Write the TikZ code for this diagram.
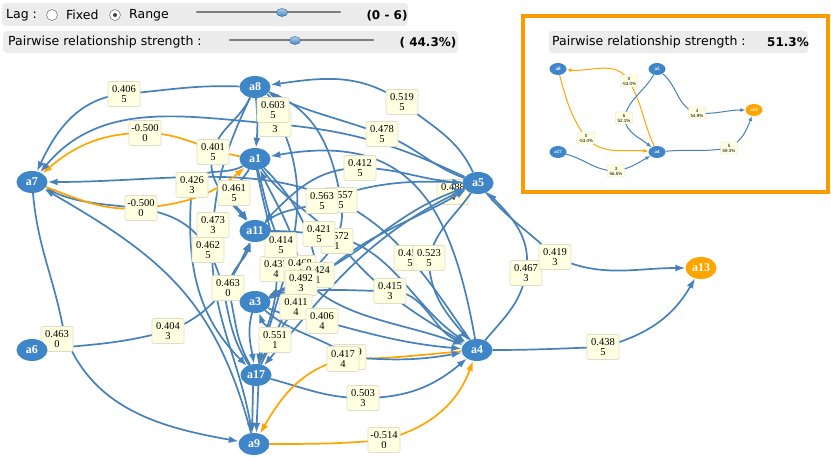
\documentclass[tikz,border=0pt]{standalone}
\usepackage{fontspec}
\setmainfont{Liberation Serif}
\newfontfamily\uisans{DejaVu Sans}
\newfontfamily\lblsans{Liberation Sans}
\usetikzlibrary{shapes.geometric,arrows.meta}
\definecolor{nodeblue}{RGB}{62,134,200}
\definecolor{edgeblue}{RGB}{70,130,185}
\definecolor{edgeorange}{RGB}{255,165,0}
\definecolor{frameorange}{RGB}{255,153,0}
\definecolor{lbfill}{RGB}{255,255,226}
\definecolor{lbborder}{RGB}{222,222,200}
\definecolor{barbg}{RGB}{236,236,236}
\definecolor{slidergray}{RGB}{125,125,125}
\pgfdeclarelayer{back}\pgfdeclarelayer{bg}\pgfdeclarelayer{fg}\pgfsetlayers{back,bg,main,fg}
\begin{document}
\begin{tikzpicture}[x=1pt,y=1pt,
 nd/.style={ellipse,fill=nodeblue,text=white,font=\bfseries\fontsize{12}{12}\selectfont,minimum width=31pt,minimum height=22pt,inner sep=0pt},
 ndo/.style={nd,fill=edgeorange},
 lb/.style={draw=lbborder,fill=lbfill,rounded corners=2pt,line width=0.7pt,font=\fontsize{10.5}{10.5}\selectfont,align=center,inner sep=1pt,minimum width=32pt,minimum height=25pt},
 eb/.style={draw=edgeblue,line width=1.7pt,-{Latex[length=10pt,width=7pt]}},
 eo/.style={eb,draw=edgeorange},
 snd/.style={ellipse,fill=nodeblue,text=white,font=\bfseries\fontsize{5}{5}\selectfont,minimum width=17pt,minimum height=12pt,inner sep=0pt},
 sndo/.style={snd,fill=edgeorange},
 slb/.style={draw=lbborder,fill=lbfill,rounded corners=1pt,line width=0.4pt,font=\lblsans\fontsize{4.5}{5}\selectfont,align=center,inner sep=0.5pt,minimum width=17pt,minimum height=12pt},
 sb/.style={draw=edgeblue,line width=1pt,-{Latex[length=5pt,width=4pt]}},
 sbo/.style={sb,draw=edgeorange},
 ui/.style={font=\uisans\fontsize{12.5}{12.5}\selectfont,inner sep=0pt},
 uib/.style={font=\uisans\bfseries\fontsize{12}{12}\selectfont,inner sep=0pt},
 knob/.style={ellipse,minimum width=11pt,minimum height=8pt,inner sep=0pt,draw=nodeblue!70!black,top color=nodeblue!40!white,bottom color=nodeblue},
 slider/.style={line width=2.6pt,draw=slidergray,line cap=round}
]
\useasboundingbox (0,0) rectangle (831,-457);
\begin{pgfonlayer}{back}
\fill[white] (0,0) rectangle (831,-457);
\end{pgfonlayer}

% ---------- toolbar ----------
\fill[barbg,rounded corners=4pt] (2,-3) rectangle (408,-26);
\node[ui,anchor=west] (tlag) at (6,-15) {Lag :};
\node[circle,draw=gray,fill=white,minimum size=11pt,inner sep=0pt,line width=0.6pt] (rb1) at (52,-15) {};
\node[ui,anchor=west] (tfixed) at (66,-15) {Fixed};
\node[circle,draw=gray,fill=white,minimum size=11pt,inner sep=0pt,line width=0.6pt] (rb2) at (115,-15) {};
\node[circle,fill=black!75,minimum size=4pt,inner sep=0pt] (rb2dot) at (rb2) {};
\node[ui,anchor=west] (trange) at (129,-15) {Range};
\coordinate (s1a) at (197,-12); \coordinate (s1b) at (340,-12);
\draw[slider] (s1a) -- (s1b);
\node[knob] (k1) at (282,-12.5) {};
\node[uib] (tlagval) at (387,-16) {(0 - 6)};

\fill[barbg,rounded corners=4pt] (3,-31) rectangle (458,-53);
\node[ui,anchor=west] (tpair) at (8,-42) {Pairwise relationship strength :};
\coordinate (s2a) at (230,-40); \coordinate (s2b) at (373,-40);
\draw[slider] (s2a) -- (s2b);
\node[knob] (k2) at (295,-40.5) {};
\node[uib] (tpairval) at (428,-43) {( 44.3\%)};

% ---------- inset ----------
\draw[frameorange,line width=4.5pt] (523,-16) rectangle (828,-192);
\fill[barbg,rounded corners=3pt] (549,-31) rectangle (808,-53);
\node[ui,anchor=west] (ipair) at (552,-42) {Pairwise relationship strength :};
\node[uib] (ipairval) at (788,-42) {51.3\%};

\begin{pgfonlayer}{fg}
\node[snd] (b8) at (558,-69) {a8};
\node[snd] (b5) at (657,-69) {a5};
\node[sndo] (b13) at (754,-110) {a13};
\node[snd] (b17) at (558,-152) {a17};
\node[snd] (b4) at (657,-152) {a4};
\end{pgfonlayer}
\coordinate (r1) at (629,-81);
\coordinate (r2) at (624,-118);
\coordinate (r3) at (697,-113);
\coordinate (r4) at (586,-138);
\coordinate (r5) at (616,-171);
\coordinate (r6) at (729,-148);
\begin{pgfonlayer}{bg}
\draw[sbo] (b4) to[out=115,in=-60] (r1) to[out=120,in=-5] (b8);
\draw[sbo] (b8) to[out=-75,in=125] (r4) to[out=-45,in=175] (b4);
\draw[sb] (b5) to[out=-120,in=75] (r2) to[out=-80,in=140] (b4);
\draw[sb] (b5) to[out=-40,in=165] (r3) to[out=-5,in=180] (b13);
\draw[sb] (b17) to[out=-15,in=180] (r5) to[out=10,in=-150] (b4);
\draw[sb] (b4) to[out=5,in=190] (r6) to[out=30,in=-110] (b13);
\end{pgfonlayer}
\node[slb] (m1) at (r1) {0\\-53.0\%};
\node[slb] (m2) at (r2) {6\\52.1\%};
\node[slb] (m3) at (r3) {4\\54.9\%};
\node[slb] (m4) at (r4) {0\\-53.0\%};
\node[slb] (m5) at (r5) {3\\56.5\%};
\node[slb] (m6) at (r6) {5\\59.3\%};

% ---------- main graph nodes ----------
\begin{pgfonlayer}{fg}
\node[nd] (a8) at (255,-87) {a8};
\node[nd] (a1) at (255,-159) {a1};
\node[nd] (a7) at (32,-182) {a7};
\node[nd] (a5) at (478,-183) {a5};
\node[nd] (a11) at (255,-231) {a11};
\node[nd] (a3) at (255,-302) {a3};
\node[nd] (a6) at (32,-350) {a6};
\node[nd] (a4) at (477,-350) {a4};
\node[nd] (a17) at (256,-375) {a17};
\node[nd] (a9) at (254,-444) {a9};
\node[ndo] (a13) at (701,-268) {a13};
\end{pgfonlayer}

% label positions
\coordinate (q1) at (124,-94);
\coordinate (q2) at (145,-133);
\coordinate (q3) at (275,-124);
\coordinate (q4) at (273,-110);
\coordinate (q5) at (341,-200);
\coordinate (q6) at (402,-102);
\coordinate (q7) at (382,-134);
\coordinate (q10) at (360,-168);
\coordinate (q11) at (410,-258);
\coordinate (q12) at (57,-339);
\coordinate (q12p) at (64,-333);
\coordinate (q13) at (168,-331);
\coordinate (q14) at (228,-288);
\coordinate (q15) at (208,-250);
\coordinate (q17) at (213,-225);
\coordinate (q18) at (213,-152);
\coordinate (q19) at (234,-193);
\coordinate (q20) at (192,-185);
\coordinate (q21) at (141,-208);
\coordinate (q22) at (319,-234);
\coordinate (q23) at (390,-291);
\coordinate (q24) at (363,-398);
\coordinate (q25) at (281,-245);
\coordinate (q26) at (322,-321);
\coordinate (q27) at (296,-307);
\coordinate (q28) at (301,-283);
\coordinate (q29) at (322,-201);
\coordinate (q30) at (275,-340);
\coordinate (q32) at (300,-268);
\coordinate (q33) at (276,-269);
\coordinate (q34) at (337,-241);
\coordinate (q35) at (318,-275);
\coordinate (q36) at (453,-192);
\coordinate (q37) at (429,-258);
\coordinate (q38) at (526,-273);
\coordinate (q39) at (555,-257);
\coordinate (q40) at (603,-347);
\coordinate (q43) at (343,-359);
\coordinate (q44) at (384,-440);
\coordinate (q45) at (350,-357);

% ---------- edges ----------
\begin{pgfonlayer}{bg}
\node[lb] (l36) at (q36) {0.488\\4};
\draw[eb] (a8) to[out=178,in=5] (q1) to[out=185,in=65] (a7);
\draw[eo] (a1) to[out=170,in=0] (q2) to[out=180,in=40] (a7);
\draw[eb] (a5) to[out=155,in=-5] (q3) to[out=175,in=50] (a7);
\draw[eb] (a8) to[out=-30,in=120] (q4) to[out=-60,in=75] (a17);
\draw[eb] (a8) to[out=-20,in=100] (q5) to[out=-80,in=25] (a3);
\draw[eb] (a5) to[out=115,in=-40] (q6) to[out=145,in=8] (a8);
\draw[eb] (a5) to[out=160,in=-20] (q7) to[out=160,in=-25] (a8);
\draw[eb] (a8) to[bend left=5] (a1);
\draw[eb] (a4) to[out=100,in=10,looseness=1.3] (a1);
\draw[eb] (a5) to[out=178,in=0] (q10) to[out=180,in=45] (a11);
\draw[eb] (a4) to[out=125,in=-50] (q11) to[out=130,in=0] (a7);
\draw[eb] (a7) to[out=-85,in=100] (q12p) to[out=-70,in=170] (a9);
\draw[eb] (a6) to[out=5,in=195] (q13) to[out=20,in=-115] (a11);
\draw[eb] (a17) to[out=120,in=-75] (q14) to[out=80,in=-110] (a11);
\draw[eb] (a17) to[out=125,in=-60] (q15) to[out=120,in=-25] (a7);
\draw[eb] (a9) to[out=105,in=-30,looseness=1.1] (a7);
\draw[eb] (a8) to[out=-115,in=85] (q17) to[out=-95,in=100] (a9);
\draw[eb] (a8) to[out=-115,in=75] (q18) to[out=-105,in=130] (a11);
\draw[eb] (a1) to[out=-120,in=75] (q19) to[out=-105,in=125] (a11);
\draw[eb] (a1) to[out=-150,in=70] (q20) to[out=-95,in=135] (a17);
\draw[eo] (a7) to[out=-20,in=185] (q21) to[out=5,in=-140] (a1);
\draw[eb] (a11) to[out=0,in=175] (q22) to[out=-5,in=145] (a4);
\draw[eb] (a3) to[out=15,in=180] (q23) to[out=0,in=155] (a4);
\draw[eb] (a17) to[out=-15,in=180] (q24) to[out=0,in=-140] (a4);
\draw[eb] (a1) to[out=-75,in=115] (q25) to[out=-65,in=160] (a4);
\draw[eb] (a3) to[out=-25,in=165] (q26) to[out=-15,in=175] (a4);
\draw[eb] (a17) to[out=65,in=-125] (q27) to[out=55,in=-150] (a5);
\draw[eb] (a3) to[out=20,in=-165] (q28) to[out=25,in=-160] (a5);
\draw[eb] (a11) to[out=40,in=-155] (q29) to[out=20,in=178] (a5);
\draw[eb] (a17) to[out=75,in=-110] (q30) to[out=100,in=-70] (a3);
\draw[eb] (a3) to[out=-105,in=100] (a17);
\draw[eb] (a17) to[out=65,in=-105] (q32) to[out=100,in=-65] (a1);
\draw[eb] (a1) to[out=-80,in=95] (q33) to[out=-85,in=80] (a17);
\draw[eb] (a1) to[out=-55,in=130] (q34) to[out=-50,in=150] (a4);
\draw[eb] (a1) to[out=-45,in=100] (q35) to[out=-100,in=20] (a3);
\draw[eb] (a5) to[out=-155,in=50] (a17);
\draw[eb] (a5) to[out=-125,in=75] (q37) to[out=-90,in=130] (a4);
\draw[eb] (a4) to[out=50,in=-100] (q38) to[out=80,in=-45] (a5);
\draw[eb] (a5) to[out=-50,in=135] (q39) to[out=-25,in=180] (a13);
\draw[eb] (a4) to[out=0,in=182] (q40) to[out=15,in=-120] (a13);
\draw[eb] (a17.-105) -- (a9.100);
\draw[eb] (a17.-78) -- (a9.78);
\draw[eo] (a4) to[out=185,in=0] (q43) to[out=-165,in=60] (a9);
\draw[eo] (a9) to[out=0,in=185] (q44) to[out=15,in=-110] (a4);
\draw[eb] (a3) to[out=-40,in=145] (q45) to[out=-5,in=190] (a4);
\end{pgfonlayer}

% ---------- edge labels ----------
\node[lb] (l1) at (q1) {0.406\\5};
\node[lb] (l2) at (q2) {-0.500\\0};
\node[lb] (l3) at (q3) {0.437\\3};
\node[lb] (l4) at (q4) {0.603\\5};
\node[lb] (l6) at (q6) {0.519\\5};
\node[lb] (l7) at (q7) {0.478\\5};
\node[lb] (l10) at (q10) {0.412\\5};
\node[lb] (l5) at (q5) {0.557\\5};
\node[lb] (l29) at (q29) {0.563\\5};
\node[lb] (l18) at (q18) {0.401\\5};
\node[lb] (l20) at (q20) {0.426\\3};
\node[lb] (l19) at (q19) {0.461\\5};
\node[lb] (l21) at (q21) {-0.500\\0};
\node[lb] (l17) at (q17) {0.473\\3};
\node[lb] (l15) at (q15) {0.462\\5};
\node[lb] (l14) at (q14) {0.463\\0};
\node[lb] (l12) at (q12) {0.463\\0};
\node[lb] (l13) at (q13) {0.404\\3};
\node[lb] (l34) at (q34) {0.572\\1};
\node[lb] (l22) at (q22) {0.421\\5};
\node[lb] (l33) at (q33) {0.437\\4};
\node[lb] (l32) at (q32) {0.468\\4};
\node[lb] (l35) at (q35) {0.424\\1};
\node[lb] (l25) at (q25) {0.414\\5};
\node[lb] (l28) at (q28) {0.492\\3};
\node[lb] (l27) at (q27) {0.411\\4};
\node[lb] (l26) at (q26) {0.406\\4};
\node[lb] (l30) at (q30) {0.551\\1};
\node[lb] (l23) at (q23) {0.415\\3};
\node[lb] (l11) at (q11) {0.452\\5};
\node[lb] (l37) at (q37) {0.523\\5};
\node[lb] (l38) at (q38) {0.467\\3};
\node[lb] (l39) at (q39) {0.419\\3};
\node[lb] (l40) at (q40) {0.438\\5};
\node[lb] (l45) at (q45) {0.409\\4};
\node[lb] (l43) at (q43) {0.417\\4};
\node[lb] (l24) at (q24) {0.503\\3};
\node[lb] (l44) at (q44) {-0.514\\0};
\end{tikzpicture}
\end{document}
